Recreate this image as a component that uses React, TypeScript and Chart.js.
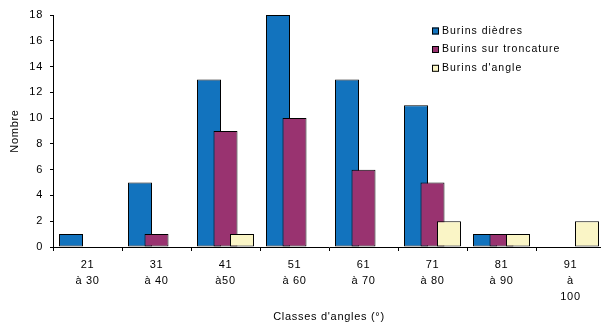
import React, { useEffect, useRef } from 'react';
import { Chart, registerables } from 'chart.js';

Chart.register(...registerables);

const categories: string[][] = [
  ['21', 'à 30'],
  ['31', 'à 40'],
  ['41', 'à50'],
  ['51', 'à 60'],
  ['61', 'à 70'],
  ['71', 'à 80'],
  ['81', 'à 90'],
  ['91', 'à', '100'],
];

const seriesNames = ['Burins dièdres', 'Burins sur troncature', "Burins d'angle"];
const burinsDiedres = [1, 5, 13, 18, 13, 11, 1, 0];
const burinsSurTroncature = [0, 1, 9, 10, 6, 5, 1, 0];
const burinsDAngle = [0, 0, 1, 0, 0, 2, 1, 2];
const seriesColors = ['#1273BE', '#993370', '#FAF5C6'];

const yMin = 0;
const yMax = 18;
const yStep = 2;

const xTitle = "Classes d'angles (°)";
const yTitle = 'Nombre';

const FONT = '"Liberation Sans", Arial, Helvetica, sans-serif';
const SPACING = '0.7px';

const spacingPlugin = {
  id: 'letterSpacing',
  beforeUpdate(chart: any) {
    chart.ctx.letterSpacing = SPACING;
  },
  beforeLayout(chart: any) {
    chart.ctx.letterSpacing = SPACING;
  },
  beforeDraw(chart: any) {
    chart.ctx.letterSpacing = SPACING;
  },
};

const drawOrderPlugin = {
  id: 'drawOrder',
  beforeDatasetsDraw(chart: any) {
    const metas = chart.getSortedVisibleDatasetMetas();
    for (let i = 0; i < metas.length; i++) {
      metas[i].controller.draw();
    }
    return false;
  },
};

const innerLegendPlugin = {
  id: 'innerLegend',
  afterDraw(chart: any) {
    const ctx = chart.ctx;
    const boxX = 432;
    const textX = 442;
    const rows = [31, 49.5, 68.3];
    ctx.save();
    ctx.font = `10.5px ${FONT}`;
    ctx.letterSpacing = '1px';
    ctx.textBaseline = 'middle';
    ctx.textAlign = 'left';
    chart.data.datasets.forEach((ds: any, i: number) => {
      const cy = rows[i];
      ctx.fillStyle = ds.backgroundColor;
      ctx.fillRect(boxX, cy - 3.5, 7, 7);
      ctx.strokeStyle = '#000';
      ctx.lineWidth = 1;
      ctx.strokeRect(boxX + 0.5, cy - 3.5 + 0.5, 6, 6);
      ctx.fillStyle = '#000';
      ctx.fillText(ds.label, textX, cy);
    });
    ctx.restore();
  },
};

export default function App() {
  const canvasRef = useRef<HTMLCanvasElement | null>(null);

  useEffect(() => {
    document.body.style.margin = '0';
    document.body.style.overflow = 'hidden';
    const canvas = canvasRef.current;
    if (!canvas) return;
    const values = [burinsDiedres, burinsSurTroncature, burinsDAngle];
    const chart = new Chart(canvas, {
      type: 'bar',
      data: {
        labels: categories,
        datasets: seriesNames.map((name, i) => ({
          label: name,
          data: values[i],
          backgroundColor: seriesColors[i],
          borderColor: '#000',
          borderWidth: 1,
          borderSkipped: false,
          categoryPercentage: 0.717,
          barPercentage: 1.455,
        })),
      },
      options: {
        animation: false,
        responsive: false,
        devicePixelRatio: 1,
        layout: { padding: { top: 15, right: 0, bottom: 0, left: 0 } },
        plugins: {
          legend: { display: false },
          tooltip: { enabled: false },
        },
        scales: {
          x: {
            afterFit(scale: any) {
              scale.height = 77;
            },
            grid: {
              display: true,
              offset: true,
              drawOnChartArea: false,
              drawTicks: true,
              tickLength: 4,
              color: '#000',
            },
            border: { display: true, color: '#000', width: 1 },
            ticks: {
              color: '#000',
              font: { family: FONT, size: 11, lineHeight: 1.45 },
              padding: 6,
              maxRotation: 0,
              autoSkip: false,
            },
            title: {
              display: true,
              text: xTitle,
              color: '#000',
              font: { family: FONT, size: 11 },
              padding: { top: 0, bottom: 0 },
            },
          },
          y: {
            min: yMin,
            max: yMax,
            afterFit(scale: any) {
              scale.width = 53;
            },
            grid: {
              display: true,
              drawOnChartArea: false,
              drawTicks: true,
              tickLength: 3,
              color: '#000',
            },
            border: { display: true, color: '#000', width: 1 },
            ticks: {
              stepSize: yStep,
              color: '#000',
              font: { family: FONT, size: 11 },
              padding: 7,
            },
            title: {
              display: true,
              text: yTitle,
              color: '#000',
              font: { family: FONT, size: 11 },
              padding: { top: 8, bottom: 0 },
            },
          },
        },
      },
      plugins: [spacingPlugin, drawOrderPlugin, innerLegendPlugin],
    } as any);
    return () => chart.destroy();
  }, []);

  return (
    <div style={{ width: 601, height: 324, overflow: 'hidden', position: 'relative', background: '#fff' }}>
      <canvas ref={canvasRef} width={605} height={324} style={{ width: 605, height: 324, display: 'block' }} />
    </div>
  );
}
